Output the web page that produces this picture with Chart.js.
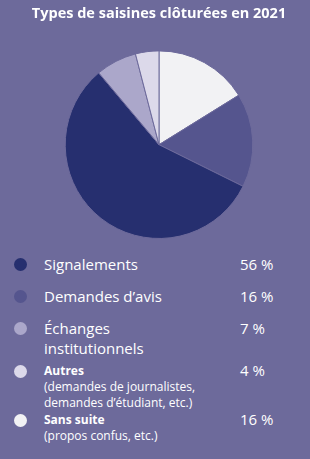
<!DOCTYPE html>
<html>
<head>
<meta charset="utf-8">
<script src="https://cdn.jsdelivr.net/npm/chart.js@4"></script>
<style>
  html, body { margin: 0; padding: 0; }
  body {
    width: 310px;
    height: 459px;
    background: #6d6a9b;
    font-family: "Open Sans", sans-serif;
    color: #ffffff;
    position: relative;
    overflow: hidden;
  }
  #wrap { position: absolute; left: 0; top: 0; width: 310px; height: 239px; }
  #legend { position: absolute; left: 0; top: 254px; width: 310px; }
  .row { position: absolute; left: 0; width: 310px; }
  .dot { position: absolute; left: 14px; width: 13px; height: 13px; border-radius: 50%; }
  .lbl { position: absolute; left: 44px; width: 190px; }
  .big { font-size: 15px; line-height: 20px; font-weight: 500; }
  .small { font-size: 12px; line-height: 16px; }
  .small b { font-weight: 700; }
  .pct { position: absolute; left: 240px; font-size: 15px; line-height: 20px; font-weight: 500; }
</style>
</head>
<body>
<div id="wrap"><canvas id="pie"></canvas></div>
<div id="legend"></div>
<script>
// pie order: clockwise from 12 o'clock
const labels = ["Sans suite", "Demandes d’avis", "Signalements", "Échanges institutionnels", "Autres"];
const values = [16, 16, 56, 7, 4];
const colors = ["#f2f2f4", "#55558e", "#262f6f", "#aba7ca", "#dcd9ea"];

// legend rows (top to bottom)
const legendOrder = [2, 1, 3, 4, 0];
const legendText = [
  "Signalements",
  "Demandes d’avis",
  "Échanges<br>institutionnels",
  "<b>Autres</b><br>(demandes de journalistes,<br>demandes d’étudiant, etc.)",
  "<b>Sans suite</b><br>(propos confus, etc.)"
];
const legendTop = [0, 32, 64, 109, 158];

const legend = document.getElementById("legend");
legendOrder.forEach((idx, i) => {
  const row = document.createElement("div");
  row.className = "row";
  row.style.top = legendTop[i] + "px";
  const small = i >= 3;
  row.innerHTML =
    '<div class="dot" style="top:' + (small ? 2 : 4) + 'px;background:' + colors[idx] + '"></div>' +
    '<div class="lbl ' + (small ? "small" : "big") + '">' + legendText[i] + '</div>' +
    '<div class="pct"' + (small ? ' style="top:-3px"' : '') + '>' + values[idx] + ' %</div>';
  legend.appendChild(row);
});

const ctx = document.getElementById("pie").getContext("2d");
const pieChart = new Chart(ctx, {
  type: "pie",
  data: {
    labels: labels,
    datasets: [
      {
        data: values,
        backgroundColor: colors,
        borderColor: "#6d6a9b",
        borderWidth: 1,
      },
    ],
  },
  options: {
    responsive: true,
    maintainAspectRatio: false,
    animation: false,
    layout: { padding: { left: 8, right: 0, top: 0, bottom: 0 } },
    plugins: {
      legend: { display: false },
      tooltip: { enabled: false },
      title: {
        display: true,
        text: "Types de saisines clôturées en 2021",
        color: "#ffffff",
        font: { family: "Open Sans", size: 14.5, weight: "bold" },
        padding: { top: 5, bottom: 28 },
      },
    },
  },
});
</script>
</body>
</html>
